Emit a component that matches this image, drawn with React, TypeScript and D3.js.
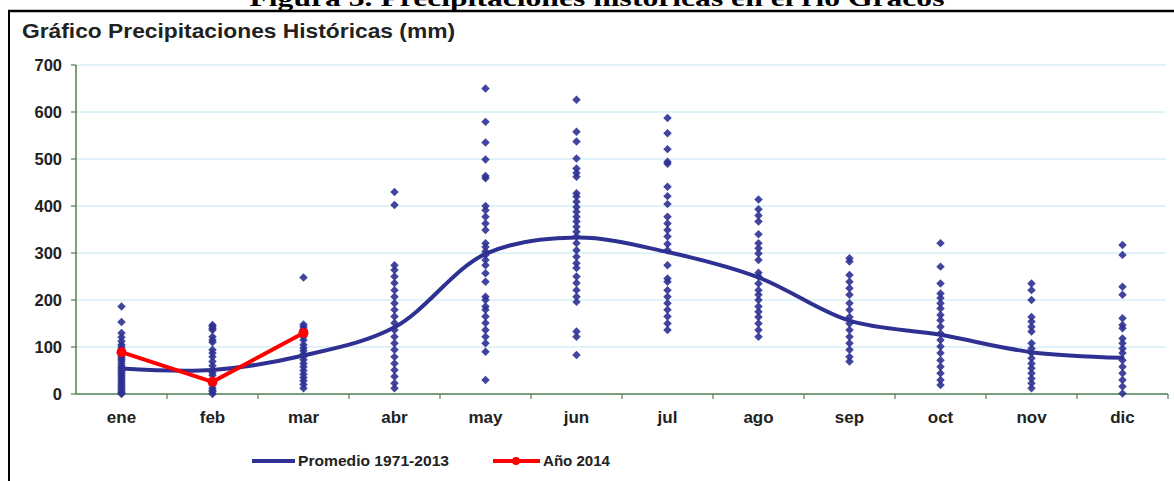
import React from 'react';
import * as d3 from 'd3';

const months = ['ene', 'feb', 'mar', 'abr', 'may', 'jun', 'jul', 'ago', 'sep', 'oct', 'nov', 'dic'];
const yTicks = [0, 100, 200, 300, 400, 500, 600, 700];

// promedio mensual 1971-2013
const promedio = [54, 51, 82, 142, 298, 333, 302, 248, 156, 126, 89, 77];
// año 2014 (solo ene-mar)
const anio2014 = [89, 26, 130];

// registros históricos por mes
const obsEne = [186, 153, 130, 121, 112, 105, 100, 95, 90, 86, 82, 78, 74, 70, 65, 60, 56, 52, 48, 44, 40, 36, 32, 28, 24, 20, 16, 12, 8, 4, 2, 0];
const obsFeb = [147, 144, 140, 136, 122, 115, 110, 94, 87, 79, 69, 60, 51, 45, 40, 30, 25, 19, 13, 8, 5, 0];
const obsMar = [248, 148, 143, 138, 133, 128, 122, 115, 105, 98, 92, 85, 80, 73, 65, 58, 50, 42, 35, 28, 20, 12];
const obsAbr = [430, 402, 274, 264, 250, 236, 221, 207, 193, 179, 165, 151, 136, 122, 108, 94, 79, 65, 51, 37, 23, 12];
const obsMay = [650, 579, 535, 499, 464, 459, 400, 391, 377, 363, 349, 321, 313, 303, 296, 285, 274, 257, 239, 207, 200, 186, 179, 165, 151, 136, 122, 108, 90, 30];
const obsJun = [626, 558, 537, 501, 480, 470, 462, 427, 420, 409, 398, 388, 377, 367, 356, 345, 335, 321, 306, 292, 278, 268, 250, 236, 221, 207, 196, 133, 122, 83];
const obsJul = [587, 555, 521, 494, 490, 441, 421, 404, 377, 363, 349, 335, 319, 306, 274, 246, 239, 221, 207, 193, 179, 165, 150, 136];
const obsAgo = [414, 393, 380, 367, 340, 321, 310, 299, 285, 258, 250, 235, 221, 211, 200, 186, 175, 164, 150, 136, 122];
const obsSep = [289, 282, 253, 239, 225, 211, 193, 179, 164, 150, 136, 122, 108, 94, 79, 69];
const obsOct = [321, 271, 235, 214, 204, 193, 182, 168, 157, 143, 129, 115, 101, 87, 72, 58, 44, 30, 19];
const obsNov = [235, 221, 200, 164, 154, 143, 133, 108, 97, 87, 76, 65, 55, 44, 33, 23, 12];
const obsDic = [317, 296, 228, 211, 161, 147, 140, 118, 108, 97, 87, 72, 58, 44, 30, 16, 1];
const observaciones = [obsEne, obsFeb, obsMar, obsAbr, obsMay, obsJun, obsJul, obsAgo, obsSep, obsOct, obsNov, obsDic];

const W = 1174;
const H = 481;
const left = 76;
const right = 1168;
const top = 65;
const bottom = 394;

const blue = '#2e3192';
const red = '#ff0000';
const font = '"Liberation Sans", Arial, sans-serif';

const App = () => {
  const x = d3.scaleBand<string>().domain(months).range([left, right]);
  const y = d3.scaleLinear().domain([0, 700]).range([bottom, top]);
  const cx = (m: string) => (x(m) as number) + x.bandwidth() / 2;

  const line = d3.line<number>()
    .x((_, i) => cx(months[i]))
    .y(v => y(v))
    .curve(d3.curveCatmullRom.alpha(0.5));
  const redLine = d3.line<number>()
    .x((_, i) => cx(months[i]))
    .y(v => y(v));

  // rombo: cuadrado girado 45°
  const diamond = d3.symbol().type(d3.symbolSquare).size(36)() as string;

  return (
    <svg width={W} height={H} style={{ position: 'absolute', left: 0, top: 0, background: '#fff' }}>
      {/* encabezado del documento (cortado en el original) */}
      <text x={597} y={6} textAnchor="middle" fontFamily='"Liberation Serif", serif' fontWeight="bold" fontSize={24}
        textLength={695} lengthAdjust="spacingAndGlyphs">Figura 3. Precipitaciones históricas en el río Gracos</text>
      <line x1={8} x2={W} y1={11} y2={11} stroke="#000" strokeWidth={2.5} />
      <line x1={9} x2={9} y1={10} y2={H} stroke="#000" strokeWidth={2} />

      <text x={22} y={38} fontFamily={font} fontWeight="bold" fontSize={21} fill="#222"
        textLength={433} lengthAdjust="spacingAndGlyphs">Gráfico Precipitaciones Históricas (mm)</text>

      {yTicks.filter(t => t > 0).map(t => (
        <line key={t} x1={left} x2={1166} y1={y(t)} y2={y(t)} stroke="#bfe6f3" strokeWidth={1} />
      ))}

      {/* eje y */}
      <line x1={left} x2={left} y1={top} y2={bottom} stroke="#4f7f4f" strokeWidth={1.5} />
      {yTicks.map(t => (
        <g key={t}>
          <line x1={left - 5} x2={left} y1={y(t)} y2={y(t)} stroke="#4f7f4f" strokeWidth={1.2} />
          <text x={62} y={y(t) + 6} textAnchor="end" fontFamily={font} fontWeight="bold" fontSize={16.5} fill="#222">{t}</text>
        </g>
      ))}

      {/* eje x */}
      <line x1={left} x2={right} y1={bottom} y2={bottom} stroke="#4f7f4f" strokeWidth={1.5} />
      {months.map(m => (
        <g key={m}>
          <line x1={(x(m) as number) + x.bandwidth()} x2={(x(m) as number) + x.bandwidth()} y1={bottom} y2={bottom + 5} stroke="#4f7f4f" strokeWidth={1.2} />
          <text x={cx(m)} y={423} textAnchor="middle" fontFamily={font} fontWeight="bold" fontSize={17} fill="#222">{m}</text>
        </g>
      ))}

      {/* registros */}
      {observaciones.map((obs, i) => obs.map((v, j) => (
        <path key={`${i}-${j}`} d={diamond} transform={`translate(${cx(months[i])},${y(v)}) rotate(45)`} fill={blue} fillOpacity={0.9} />
      )))}

      <path d={line(promedio) as string} fill="none" stroke={blue} strokeWidth={4} strokeLinecap="round" />
      <path d={redLine(anio2014) as string} fill="none" stroke={red} strokeWidth={4} />
      {anio2014.map((v, i) => (
        <circle key={i} cx={cx(months[i])} cy={y(v)} r={5} fill={red} />
      ))}

      {/* leyenda */}
      <line x1={252} x2={295} y1={461} y2={461} stroke={blue} strokeWidth={4} />
      <text x={298} y={466} fontFamily={font} fontWeight="bold" fontSize={15} fill="#222"
        textLength={151} lengthAdjust="spacingAndGlyphs">Promedio 1971-2013</text>
      <line x1={493} x2={540} y1={461} y2={461} stroke={red} strokeWidth={4} />
      <circle cx={516} cy={461} r={4} fill={red} />
      <text x={543} y={466} fontFamily={font} fontWeight="bold" fontSize={15} fill="#222"
        textLength={67} lengthAdjust="spacingAndGlyphs">Año 2014</text>
    </svg>
  );
};

export default App;
